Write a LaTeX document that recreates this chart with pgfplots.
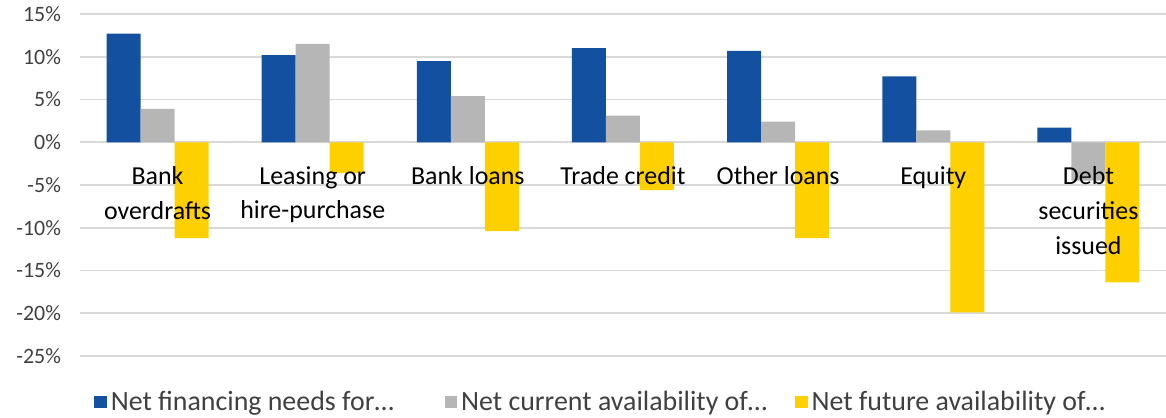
\documentclass[border=0pt]{standalone}
\usepackage{pgfplots}
\pgfplotsset{compat=1.18}
\usepackage{fontspec}
\setmainfont{Carlito}
\definecolor{ecbblue}{RGB}{19,81,160}
\definecolor{ecbgray}{RGB}{182,182,182}
\definecolor{ecbyellow}{RGB}{255,208,0}
\definecolor{gridgray}{RGB}{217,217,217}
\definecolor{txtgray}{RGB}{64,64,64}
\newcommand{\lentry}[1]{\makebox[165bp][l]{#1}}
\tikzset{catlabel/.style={align=center, anchor=north, yshift=-8.5bp,
    font=\fontsize{13}{17.5}\selectfont, text=black}}
\begin{document}
\begin{tikzpicture}
\begin{axis}[
    scale only axis,
    width=543bp, height=171bp,
    ybar=0pt, bar width=17bp,
    xmin=0.5, xmax=7.5,
    ymin=-25, ymax=15,
    axis x line=middle, axis y line=left,
    x axis line style={draw=gridgray, line width=0.8bp, -},
    y axis line style={draw=none},
    major tick length=0pt,
    ymajorgrids, grid style={gridgray, line width=0.8bp},
    xtick=\empty,
    ytick={-25,-20,...,15},
    yticklabels={-25\%,-20\%,-15\%,-10\%,-5\%,0\%,5\%,10\%,15\%},
    yticklabel style={font=\fontsize{11}{13}\selectfont, text=txtgray, xshift=-6bp},
    legend columns=3,
    legend style={draw=none, at={(axis description cs:0,0)}, anchor=west,
        xshift=4bp, yshift=-23bp,
        font=\fontsize{14}{15}\selectfont, text=txtgray,
        /tikz/every even column/.append style={column sep=0bp}},
    legend image code/.code={\fill[#1] (0bp,-3.2bp) rectangle (6.2bp,3.2bp);},
]
\addplot[fill=ecbblue, draw=none] coordinates {
    (1,12.7) (2,10.2) (3,9.5) (4,11.0) (5,10.7) (6,7.7) (7,1.7)};
\addlegendentry{\lentry{Net financing needs for…}}
\addplot[fill=ecbgray, draw=none] coordinates {
    (1,3.9) (2,11.5) (3,5.4) (4,3.1) (5,2.4) (6,1.4) (7,-4.5)};
\addlegendentry{\lentry{Net current availability of…}}
\addplot[fill=ecbyellow, draw=none] coordinates {
    (1,-11.2) (2,-3.6) (3,-10.4) (4,-5.6) (5,-11.2) (6,-19.9) (7,-16.4)};
\addlegendentry{\lentry{Net future availability of…}}
% category names sit over the bars
\node[catlabel] at (axis cs:1,0) {Bank\\overdrafts};
\node[catlabel] at (axis cs:2,0) {Leasing or\\hire-purchase};
\node[catlabel] at (axis cs:3,0) {Bank loans};
\node[catlabel] at (axis cs:4,0) {Trade credit};
\node[catlabel] at (axis cs:5,0) {Other loans};
\node[catlabel] at (axis cs:6,0) {Equity};
\node[catlabel] at (axis cs:7,0) {Debt\\securities\\issued};
\end{axis}
\pgfresetboundingbox
\useasboundingbox (-40bp,-31bp) rectangle (543bp,178bp);
\end{tikzpicture}
\end{document}
